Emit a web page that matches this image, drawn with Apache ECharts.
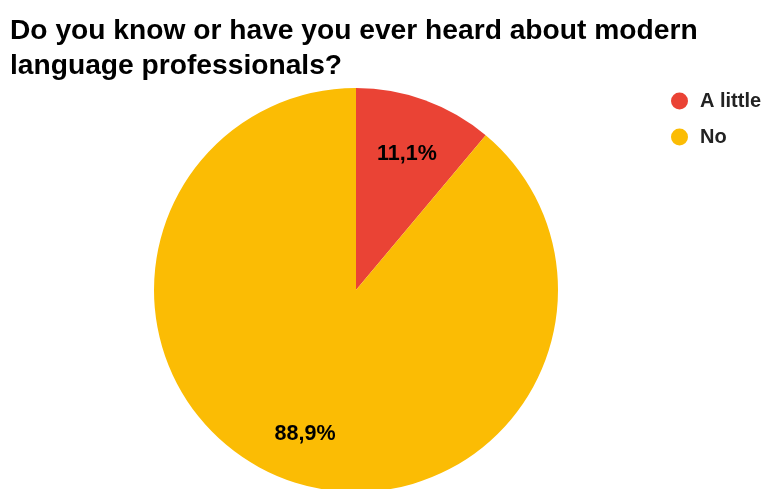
<!DOCTYPE html>
<html>
<head>
<meta charset="utf-8">
<script src="https://cdn.jsdelivr.net/npm/echarts@6/dist/echarts.min.js"></script>
<style>
  html, body { margin: 0; padding: 0; background: #ffffff; }
  #chart { width: 762px; height: 489px; }
</style>
</head>
<body>
<div id="chart"></div>
<script>
// Survey answers and their share of responses (percent)
const categories = ['A little', 'No'];
const shares = [11.1, 88.9];
const colors = ['#EA4335', '#FBBC04'];
const titleText = 'Do you know or have you ever heard about modern\nlanguage professionals?';

const FONT = '"Liberation Sans", Arial, sans-serif';

const pieData = categories.map((name, i) => ({
  name: name,
  value: shares[i],
  itemStyle: { color: colors[i] }
}));

// Labels use a comma as the decimal separator
const fmt = (p) => p.value.toFixed(1).replace('.', ',') + '%';

const chart = echarts.init(document.getElementById('chart'), null, { renderer: 'canvas' });

chart.setOption({
  backgroundColor: '#ffffff',
  animation: false,
  title: {
    text: titleText,
    left: 10,
    top: 14,
    padding: 0,
    textStyle: {
      fontFamily: FONT,
      fontSize: 28.2,
      fontWeight: 'bold',
      color: '#000000',
      lineHeight: 35
    }
  },
  legend: {
    orient: 'vertical',
    left: 671,
    top: 91,
    padding: 0,
    icon: 'circle',
    itemWidth: 17,
    itemHeight: 17,
    itemGap: 16,
    data: categories,
    selectedMode: false,
    textStyle: {
      fontFamily: FONT,
      fontSize: 20,
      fontWeight: 'bold',
      color: '#222222',
      padding: [0, 0, 0, 7]
    }
  },
  series: [
    {
      type: 'pie',
      center: [356, 290],
      radius: [0, 202],
      startAngle: 90,
      clockwise: true,
      silent: true,
      label: { show: false },
      labelLine: { show: false },
      itemStyle: { borderWidth: 0 },
      data: pieData
    },
    {
      // transparent ring that carries the percentage labels further out
      type: 'pie',
      center: [356, 290],
      radius: [90, 202],
      startAngle: 90,
      clockwise: true,
      silent: true,
      itemStyle: { color: 'rgba(0,0,0,0)', borderWidth: 0 },
      label: {
        show: true,
        position: 'inside',
        formatter: fmt,
        fontFamily: FONT,
        fontSize: 21.5,
        fontWeight: 'bold',
        color: '#000000',
        offset: [0, 4]
      },
      labelLine: { show: false },
      data: categories.map((name, i) => ({ name: name, value: shares[i] }))
    }
  ]
});
</script>
</body>
</html>
